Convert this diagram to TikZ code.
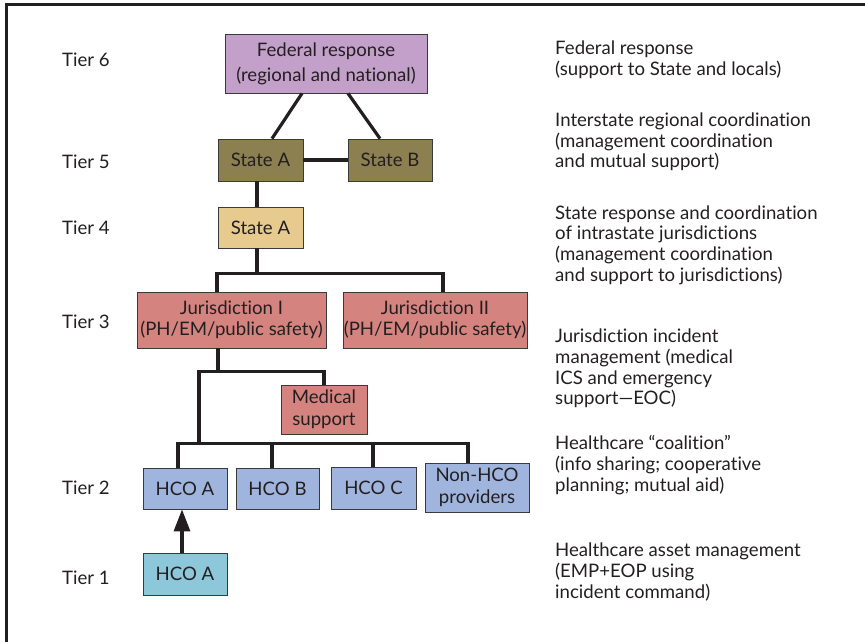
\documentclass[tikz,border=0pt]{standalone}
\usepackage{fontspec}
\setmainfont{Lato}[Ligatures={TeX,NoCommon}]
\usetikzlibrary{arrows.meta,calc}
\definecolor{fedc}{HTML}{C3A0C9}
\definecolor{stc}{HTML}{8C8050}
\definecolor{stfc}{HTML}{E6CA8E}
\definecolor{jurc}{HTML}{D5837F}
\definecolor{hcoc}{HTML}{A0B5DD}
\definecolor{hcoac}{HTML}{8CC7DA}
\definecolor{boxline}{HTML}{3A3A3A}
\definecolor{linec}{HTML}{231F20}
\definecolor{txtc}{HTML}{231F20}
\newcommand\myfs{\fontsize{18.6}{20.6}\selectfont}
\begin{document}
\begin{tikzpicture}[x=1pt,y=-1pt,
  box/.style={draw=boxline, line width=0.8pt, inner sep=0pt, align=center, font=\myfs, text=txtc},
  conn/.style={line width=3.2pt, draw=linec},
  tier/.style={anchor=west, inner sep=0pt, font=\myfs, text=txtc},
  desc/.style={anchor=west, inner sep=0pt, align=left, font=\myfs, text=txtc}]
\useasboundingbox (0,0) rectangle (865,642);
\draw[line width=3pt, draw=linec] (870,5) -- (6,5) -- (6,650);

% boxes
\node[box, fill=fedc, minimum width=202pt, minimum height=59pt, font=\fontsize{18.6}{25}\selectfont] (fed) at (326,63.5) {Federal response\\(regional and national)};
\node[box, fill=stc, minimum width=85pt, minimum height=42pt] (sa5) at (260.5,160) {State A};
\node[box, fill=stc, minimum width=84pt, minimum height=42pt] (sb) at (390,160) {State B};
\node[box, fill=stfc, minimum width=85pt, minimum height=41pt] (sa4) at (260.5,227.5) {State A};
\node[box, fill=jurc, minimum width=189pt, minimum height=56pt] (jI) at (231.5,320) {Jurisdiction I\\(PH/EM/public safety)};
\node[box, fill=jurc, minimum width=184pt, minimum height=56pt] (jII) at (435,320) {Jurisdiction II\\(PH/EM/public safety)};
\node[box, fill=jurc, minimum width=86pt, minimum height=49pt, font=\fontsize{18.6}{22}\selectfont] (med) at (324,409.5) {Medical\\support};
\node[box, fill=hcoc, minimum width=84pt, minimum height=41pt] (h2a) at (185,488.5) {HCO A};
\node[box, fill=hcoc, minimum width=83pt, minimum height=41pt] (h2b) at (277.5,488.5) {HCO B};
\node[box, fill=hcoc, minimum width=85pt, minimum height=42pt] (h2c) at (373.5,488) {HCO C};
\node[box, fill=hcoc, minimum width=104pt, minimum height=49pt, font=\fontsize{18.6}{22}\selectfont] (nh) at (477,487.5) {Non-HCO\\providers};
\node[box, fill=hcoac, minimum width=84pt, minimum height=42pt] (h1a) at (185,574) {HCO A};

% connectors
\draw[conn] ($(fed.south)+(-24,0)$) -- ($(sa5.north)+(11.5,0)$);
\draw[conn] ($(fed.south)+(22,0)$) -- ($(sb.north)+(-10,0)$);
\draw[conn] (sa5.east) -- (sb.west);
\draw[conn] ($(sa5.south)+(-3.5,0)$) -- ($(sa4.north)+(-3.5,0)$);
\draw[conn] ($(sa4.south)+(-3.5,0)$) -- ++(0,26) coordinate (b3);
\draw[conn] ($(jI.north)+(-14.5,0)$) |- ($(jII.north)+(8,-18)$) -- ($(jII.north)+(8,0)$);
\draw[conn] ($(jI.south)+(-13.5,0)$) -- ++(0,23) coordinate (jm);
\draw[conn] (med.north) |- (jm) -- ++(-19,0) -- ++(0,72.5) coordinate (hb);
\draw[conn] ($(h2a.north)+(-7,0)$) |- ($(nh.north)+(-9,-19.5)$) -- ($(nh.north)+(-9,0)$);
\draw[conn] ($(h2b.north)+(-5.5,0)$) -- ++(0,-24.5);
\draw[conn] ($(h2c.north)+(-0.5,0)$) -- ++(0,-23.5);
\draw[conn, -{Triangle[length=22pt,width=16pt]}] ($(h1a.north)+(-3,0)$) -- ($(h2a.south)+(-3,0)$);

% tier labels
\node[tier] (t6) at (62,60) {Tier 6};
\node[tier] (t5) at (62,162) {Tier 5};
\node[tier] (t4) at (62,228) {Tier 4};
\node[tier] (t3) at (62,322) {Tier 3};
\node[tier] (t2) at (62,488) {Tier 2};
\node[tier] (t1) at (62,578) {Tier 1};

% descriptions
\node[desc] (d6) at (555,60) {Federal response\\(support to State and locals)};
\node[desc] (d5) at (555,142) {Interstate regional coordination\\(management coordination\\and mutual support)};
\node[desc] (d4) at (555,245) {State response and coordination\\of intrastate jurisdictions\\(management coordination\\and support to jurisdictions)};
\node[desc] (d3) at (555,368.5) {Jurisdiction incident\\management (medical\\ICS and emergency\\support---EOC)};
\node[desc] (d2) at (555,465) {Healthcare ``coalition''\\(info sharing; cooperative\\planning; mutual aid)};
\node[desc] (d1) at (555,572) {Healthcare asset management\\(EMP+EOP using\\incident command)};
\end{tikzpicture}
\end{document}
